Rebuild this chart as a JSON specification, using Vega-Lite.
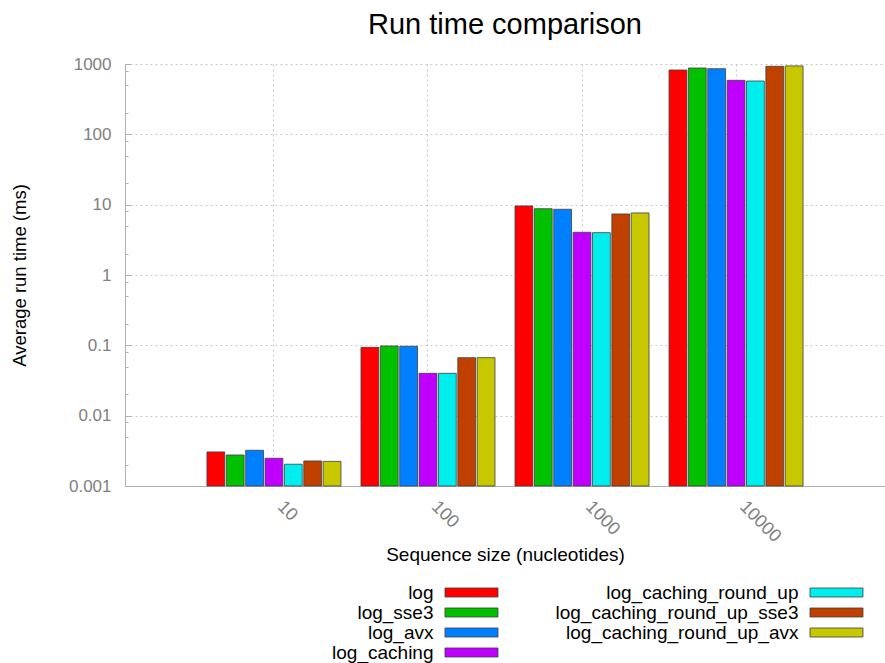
{
  "$schema": "https://vega.github.io/schema/vega-lite/v6.json",
  "background": "white",
  "padding": {"left": 10, "top": 11, "right": 0, "bottom": 0},
  "config": {
    "font": "Liberation Sans",
    "view": {"stroke": null},
    "concat": {"spacing": 17.5}
  },
  "datasets": {
    "runs": [
      {"size": "10", "impl": "log", "time": 0.00305},
      {"size": "10", "impl": "log_sse3", "time": 0.00276},
      {"size": "10", "impl": "log_avx", "time": 0.00322},
      {"size": "10", "impl": "log_caching", "time": 0.00248},
      {"size": "10", "impl": "log_caching_round_up", "time": 0.00204},
      {"size": "10", "impl": "log_caching_round_up_sse3", "time": 0.00227},
      {"size": "10", "impl": "log_caching_round_up_avx", "time": 0.00224},
      {"size": "100", "impl": "log", "time": 0.0937},
      {"size": "100", "impl": "log_sse3", "time": 0.098},
      {"size": "100", "impl": "log_avx", "time": 0.097},
      {"size": "100", "impl": "log_caching", "time": 0.040},
      {"size": "100", "impl": "log_caching_round_up", "time": 0.040},
      {"size": "100", "impl": "log_caching_round_up_sse3", "time": 0.0668},
      {"size": "100", "impl": "log_caching_round_up_avx", "time": 0.0668},
      {"size": "1000", "impl": "log", "time": 9.6},
      {"size": "1000", "impl": "log_sse3", "time": 8.77},
      {"size": "1000", "impl": "log_avx", "time": 8.6},
      {"size": "1000", "impl": "log_caching", "time": 4.05},
      {"size": "1000", "impl": "log_caching_round_up", "time": 4.0},
      {"size": "1000", "impl": "log_caching_round_up_sse3", "time": 7.38},
      {"size": "1000", "impl": "log_caching_round_up_avx", "time": 7.63},
      {"size": "10000", "impl": "log", "time": 822},
      {"size": "10000", "impl": "log_sse3", "time": 877},
      {"size": "10000", "impl": "log_avx", "time": 857},
      {"size": "10000", "impl": "log_caching", "time": 586},
      {"size": "10000", "impl": "log_caching_round_up", "time": 573},
      {"size": "10000", "impl": "log_caching_round_up_sse3", "time": 928},
      {"size": "10000", "impl": "log_caching_round_up_avx", "time": 940}
    ],
    "legend": [
      {"impl": "log", "col": 0, "row": 0},
      {"impl": "log_sse3", "col": 0, "row": 1},
      {"impl": "log_avx", "col": 0, "row": 2},
      {"impl": "log_caching", "col": 0, "row": 3},
      {"impl": "log_caching_round_up", "col": 1, "row": 0},
      {"impl": "log_caching_round_up_sse3", "col": 1, "row": 1},
      {"impl": "log_caching_round_up_avx", "col": 1, "row": 2}
    ]
  },
  "vconcat": [
    {
      "width": 760,
      "height": 422,
      "title": {"text": "Run time comparison", "fontSize": 29, "fontWeight": "normal", "color": "black", "anchor": "middle", "frame": "group", "offset": 15},
      "data": {"name": "runs"},
      "mark": {"type": "bar", "stroke": "#404040", "strokeWidth": 1, "strokeOpacity": 0.8},
      "encoding": {
        "x": {
          "field": "size", "type": "nominal", "sort": ["10", "100", "1000", "10000"],
          "scale": {"paddingInner": 0.13, "paddingOuter": 0.532},
          "axis": {
            "title": "Sequence size (nucleotides)", "titleFontSize": 19, "titleFontWeight": "normal", "titleColor": "black", "titlePadding": 0,
            "labelAngle": 45, "labelAlign": "left", "labelBaseline": "bottom", "labelFontSize": 18, "labelColor": "#808080", "labelPadding": 24,
            "ticks": false, "domainColor": "#b0b0b0", "domainWidth": 1,
            "grid": true, "gridColor": "#c8c8c8", "gridDash": [2, 3], "gridWidth": 1
          }
        },
        "xOffset": {
          "field": "impl", "type": "nominal",
          "sort": ["log", "log_sse3", "log_avx", "log_caching", "log_caching_round_up", "log_caching_round_up_sse3", "log_caching_round_up_avx"],
          "scale": {"paddingInner": 0.08}
        },
        "y": {
          "field": "time", "type": "quantitative",
          "scale": {"type": "log", "domain": [0.001, 1000], "nice": false},
          "axis": {
            "title": "Average run time (ms)", "titleFontSize": 18.5, "titleFontWeight": "normal", "titleColor": "black", "titlePadding": 39,
            "values": [0.001, 0.002, 0.005, 0.008, 0.01, 0.02, 0.05, 0.08, 0.1, 0.2, 0.5, 0.8, 1, 2, 5, 8, 10, 20, 50, 80, 100, 200, 500, 800, 1000],
            "labelExpr": "abs(log(datum.value)/LN10 - round(log(datum.value)/LN10)) < 1e-6 ? '' + datum.value : ''",
            "labelFontSize": 17, "labelColor": "#808080", "labelPadding": 20,
            "domainColor": "#b0b0b0", "domainWidth": 1,
            "tickColor": "#b0b0b0",
            "tickSize": {"condition": {"test": "abs(log(datum.value)/LN10 - round(log(datum.value)/LN10)) < 1e-6", "value": -6}, "value": -3},
            "grid": true, "gridColor": "#c8c8c8", "gridDash": [2, 3], "gridWidth": 1,
            "gridOpacity": {"condition": {"test": "abs(log(datum.value)/LN10 - round(log(datum.value)/LN10)) < 1e-6", "value": 1}, "value": 0}
          }
        },
        "y2": {"datum": 0.001},
        "color": {
          "field": "impl", "type": "nominal",
          "scale": {
            "domain": ["log", "log_sse3", "log_avx", "log_caching", "log_caching_round_up", "log_caching_round_up_sse3", "log_caching_round_up_avx"],
            "range": ["#ff0000", "#00c000", "#0080ff", "#c000ff", "#00eeee", "#c04000", "#c8c800"]
          },
          "legend": null
        }
      }
    },
    {
      "width": 760,
      "height": 80,
      "data": {"name": "legend"},
      "encoding": {
        "x": {"field": "col", "type": "quantitative", "scale": {"domain": [-0.9493, 1.1329], "nice": false, "zero": false}, "axis": null},
        "y": {"field": "row", "type": "quantitative", "scale": {"domain": [-0.5, 3.5], "nice": false, "zero": false, "reverse": true}, "axis": null}
      },
      "layer": [
        {
          "mark": {"type": "point", "shape": "M-1,-0.17H1V0.17H-1Z", "size": 2809, "filled": true, "opacity": 1, "stroke": "#404040", "strokeWidth": 1, "strokeOpacity": 0.8},
          "encoding": {
            "fill": {"field": "impl", "type": "nominal", "scale": {
              "domain": ["log", "log_sse3", "log_avx", "log_caching", "log_caching_round_up", "log_caching_round_up_sse3", "log_caching_round_up_avx"],
              "range": ["#ff0000", "#00c000", "#0080ff", "#c000ff", "#00eeee", "#c04000", "#c8c800"]
            }, "legend": null}
          }
        },
        {
          "mark": {"type": "text", "align": "right", "baseline": "middle", "dx": -38, "fontSize": 19, "color": "black"},
          "encoding": {"text": {"field": "impl", "type": "nominal"}}
        }
      ]
    }
  ]
}
